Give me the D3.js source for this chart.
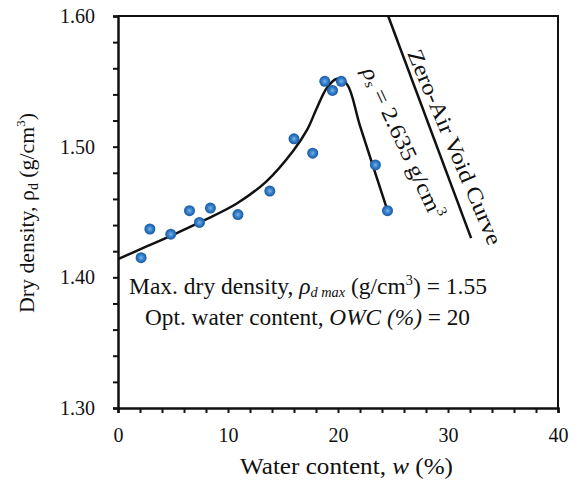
<!DOCTYPE html>
<html>
<head>
<meta charset="utf-8">
<script src="https://cdn.jsdelivr.net/npm/d3@7"></script>
<style>
  body { margin: 0; background: #fff; }
  text { font-family: "Liberation Serif", "Times New Roman", serif; fill: #111; }
</style>
</head>
<body>
<div id="chart"></div>
<script>
// measured points
const waterContent = [2.1, 2.9, 4.8, 6.5, 7.4, 8.4, 10.9, 13.8, 16.0, 17.7, 18.8, 19.5, 20.3, 23.4, 24.5];
const dryDensity = [1.415, 1.437, 1.433, 1.451, 1.442, 1.453, 1.448, 1.466, 1.506, 1.495, 1.550, 1.543, 1.550, 1.486, 1.451];

// compaction curve
const fitW = [0, 2.3, 5, 7.8, 10.8, 13.5, 15.9, 17.2, 18.1, 19.0, 19.9, 20.8, 22.0, 24.5];
const fitRho = [1.414, 1.4225, 1.4325, 1.4435, 1.4565, 1.4735, 1.4965, 1.513, 1.530, 1.545, 1.552, 1.548, 1.516, 1.451];

// zero-air void line
const zavW = [24.56, 32.1];
const zavRho = [1.60, 1.43];

const xTicks = [0, 10, 20, 30, 40];
const yTicks = [1.30, 1.40, 1.50, 1.60];

const width = 583, height = 481;
const margin = { top: 16, right: 25, bottom: 73, left: 118 };

const svg = d3.select("#chart").append("svg")
  .attr("width", width)
  .attr("height", height);

const x = d3.scaleLinear().domain([0, 40]).range([margin.left, width - margin.right]);
const y = d3.scaleLinear().domain([1.30, 1.60]).range([height - margin.bottom, margin.top]);

// frame top and right
svg.append("path")
  .attr("d", `M${x(0)},${y(1.6)}H${x(40)}V${y(1.3)}`)
  .attr("fill", "none")
  .attr("stroke", "#111")
  .attr("stroke-width", 2);

// x axis
const xAxis = d3.axisBottom(x)
  .tickValues(d3.range(0, 40.01, 2))
  .tickSize(5)
  .tickPadding(15)
  .tickFormat(d => xTicks.includes(d) ? d : "");
const gx = svg.append("g")
  .attr("transform", `translate(0,${y(1.3)})`)
  .call(xAxis);
gx.select(".domain").attr("stroke-width", 2.5).attr("stroke", "#111");
gx.selectAll(".tick line").attr("stroke-width", 2).attr("stroke", "#111");
gx.selectAll(".tick text").attr("font-size", 20).attr("font-family", "Liberation Serif").attr("fill", "#111");

// y axis
const yAxis = d3.axisLeft(y)
  .tickValues(d3.range(0, 16).map(i => 1.30 + i * 0.02))
  .tickSize(5)
  .tickPadding(18)
  .tickFormat(d => yTicks.some(t => Math.abs(t - d) < 1e-6) ? d3.format(".2f")(d) : "");
const gy = svg.append("g")
  .attr("transform", `translate(${x(0)},0)`)
  .call(yAxis);
gy.select(".domain").attr("stroke-width", 2.5).attr("stroke", "#111");
gy.selectAll(".tick line").attr("stroke-width", 2).attr("stroke", "#111");
gy.selectAll(".tick text").attr("font-size", 20).attr("font-family", "Liberation Serif").attr("fill", "#111");

// curve
const fitData = fitW.map((w, i) => [w, fitRho[i]]);
svg.append("path")
  .datum(fitData)
  .attr("fill", "none")
  .attr("stroke", "#111")
  .attr("stroke-width", 2.5)
  .attr("d", d3.line().x(d => x(d[0])).y(d => y(d[1])).curve(d3.curveCatmullRom.alpha(0.5)));

// zero air void
svg.append("line")
  .attr("x1", x(zavW[0])).attr("y1", y(zavRho[0]))
  .attr("x2", x(zavW[1])).attr("y2", y(zavRho[1]))
  .attr("stroke", "#111")
  .attr("stroke-width", 2.5);

// points
const defs = svg.append("defs");
const grad = defs.append("radialGradient").attr("id", "dot");
grad.append("stop").attr("offset", "0%").attr("stop-color", "#7fb2e3");
grad.append("stop").attr("offset", "50%").attr("stop-color", "#3580cc");
grad.append("stop").attr("offset", "100%").attr("stop-color", "#17599f");

svg.selectAll("circle.pt")
  .data(waterContent.map((w, i) => [w, dryDensity[i]]))
  .enter().append("circle")
  .attr("class", "pt")
  .attr("cx", d => x(d[0]))
  .attr("cy", d => y(d[1]))
  .attr("r", 5.5)
  .attr("fill", "url(#dot)");

// axis titles
const xt = svg.append("text")
  .attr("x", 240).attr("y", 474)
  .attr("font-size", 23)
  .attr("textLength", 213)
  .attr("lengthAdjust", "spacingAndGlyphs");
xt.append("tspan").text("Water content, ");
xt.append("tspan").attr("font-style", "italic").text("w");
xt.append("tspan").text(" (%)");

const yt = svg.append("text")
  .attr("transform", "translate(34,313) rotate(-90)")
  .attr("font-size", 22)
  .attr("textLength", 200)
  .attr("lengthAdjust", "spacingAndGlyphs");
yt.append("tspan").text("Dry density, ρ");
yt.append("tspan").attr("font-size", 14).attr("dy", 4).text("d");
yt.append("tspan").attr("dy", -4).text(" (g/cm");
yt.append("tspan").attr("font-size", 13).attr("dy", -9).text("3");
yt.append("tspan").attr("dy", 9).text(")");

// annotation
const a1 = svg.append("text").attr("x", 129).attr("y", 294).attr("font-size", 23)
  .attr("textLength", 358).attr("lengthAdjust", "spacingAndGlyphs");
a1.append("tspan").text("Max. dry density, ");
a1.append("tspan").attr("font-style", "italic").text("ρ");
a1.append("tspan").attr("font-style", "italic").attr("font-size", 14).attr("dy", 3).text("d max");
a1.append("tspan").attr("dy", -3).text(" (g/cm");
a1.append("tspan").attr("font-size", 14).attr("dy", -9).text("3");
a1.append("tspan").attr("dy", 9).text(") = 1.55");

const a2 = svg.append("text").attr("x", 145).attr("y", 325).attr("font-size", 23)
  .attr("textLength", 325).attr("lengthAdjust", "spacingAndGlyphs");
a2.append("tspan").text("Opt. water content, ");
a2.append("tspan").attr("font-style", "italic").text("OWC (%)");
a2.append("tspan").text(" = 20");

// rotated labels
svg.append("text")
  .attr("transform", "translate(455,147) rotate(67)")
  .attr("text-anchor", "middle")
  .attr("dy", "0.35em")
  .attr("font-size", 22)
  .attr("textLength", 210)
  .attr("lengthAdjust", "spacingAndGlyphs")
  .text("Zero-Air Void Curve");

const r = svg.append("text")
  .attr("transform", "translate(403,143) rotate(65)")
  .attr("text-anchor", "middle")
  .attr("font-size", 22)
  .attr("textLength", 165)
  .attr("lengthAdjust", "spacingAndGlyphs");
r.append("tspan").attr("font-style", "italic").attr("dy", 7).text("ρ");
r.append("tspan").attr("font-style", "italic").attr("font-size", 14).attr("dy", 3).text("s");
r.append("tspan").attr("dy", -3).text(" = 2.635 g/cm");
r.append("tspan").attr("font-size", 14).attr("dy", -9).text("3");
</script>
</body>
</html>
